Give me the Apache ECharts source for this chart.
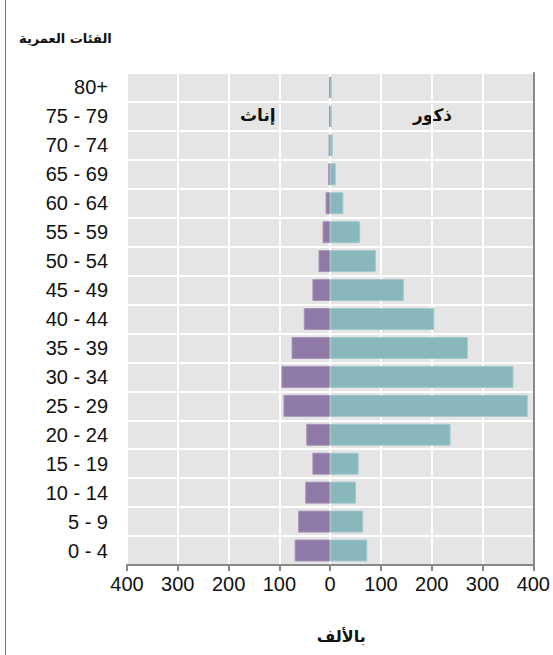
<!DOCTYPE html>
<html dir="ltr" lang="en"><head><meta charset="utf-8">
<script src="https://cdn.jsdelivr.net/npm/echarts@6/dist/echarts.min.js"></script>
<style>html,body{margin:0;padding:0;background:#fff;direction:ltr;overflow:hidden}#c{width:553px;height:655px}#c text{direction:ltr;unicode-bidi:plaintext}</style>
</head><body><div id="c"></div>
<script>
const categories = ['0 - 4','5 - 9','10 - 14','15 - 19','20 - 24','25 - 29','30 - 34','35 - 39','40 - 44','45 - 49','50 - 54','55 - 59','60 - 64','65 - 69','70 - 74','75 - 79','80+'];
const males   = [73, 65, 51, 56, 237, 389, 361, 271, 205, 145, 90, 59, 26, 11, 5, 3, 3];
const females = [70, 63, 49, 35, 47, 92, 96, 76, 52, 35, 23, 15, 9, 4, 3, 2, 2];
const xTicks = { min: -400, max: 400, interval: 100 };

const chart = echarts.init(document.getElementById('c'), null, { renderer: 'svg', width: 553, height: 655 });
chart.setOption({
  animation: false,
  title: {
    text: 'الفئات العمرية', left: 14, top: 27,
    textStyle: { fontFamily: 'DejaVu Sans', fontSize: 13, fontWeight: 'bold', color: '#111' }
  },
  grid: { left: 127, right: 14, top: 73, bottom: 90, show: true, backgroundColor: '#e5e5e5', borderWidth: 0 },
  xAxis: {
    type: 'value', min: xTicks.min, max: xTicks.max, interval: xTicks.interval,
    name: 'بالألف', nameLocation: 'middle', nameGap: 63,
    nameTextStyle: { fontFamily: 'DejaVu Sans', fontSize: 16, fontWeight: 'bold', color: '#111', padding: [0, 0, 0, 22] },
    axisLine: { show: true, onZero: false, lineStyle: { color: '#888', width: 2 } },
    axisTick: { show: true, length: 6, lineStyle: { color: '#888', width: 2 } },
    axisLabel: { formatter: v => Math.abs(v), fontFamily: 'Liberation Sans', fontSize: 20, color: '#111', margin: 9 },
    splitLine: { show: true, lineStyle: { color: '#fff', width: 2 } }
  },
  yAxis: [{
    type: 'category', data: categories,
    axisLine: { show: false }, axisTick: { show: false },
    axisLabel: { fontFamily: 'Liberation Sans', fontSize: 20, color: '#111', margin: 19, padding: [0, 0, 3, 0] },
    splitLine: { show: true, lineStyle: { color: '#fff', width: 2 } }
  }, {
    type: 'category', data: categories, position: 'right',
    axisLine: { show: true, lineStyle: { color: '#888', width: 2 } },
    axisTick: { show: false }, axisLabel: { show: false }, splitLine: { show: false }
  }],
  graphic: [
    { type: 'rect', left: 5, top: 0, shape: { width: 1, height: 655 }, style: { fill: '#4a7ebf' } },
    { type: 'text', left: 240, top: 106, style: { text: 'إناث', font: 'bold 17px DejaVu Sans', fill: '#111' } },
    { type: 'text', left: 413, top: 106, style: { text: 'ذكور', font: 'bold 17px DejaVu Sans', fill: '#111' } }
  ],
  series: [
    {
      name: 'ذكور', type: 'bar', data: males, barWidth: 22, barGap: '-100%',
      itemStyle: { color: '#88b7bc', borderColor: '#a2c8cc', borderWidth: 1 }
    },
    {
      name: 'إناث', type: 'bar', data: females.map(v => -v), barWidth: 22,
      itemStyle: { color: '#8f79a7', borderColor: '#a894bb', borderWidth: 1 }
    }
  ]
});
</script></body></html>
